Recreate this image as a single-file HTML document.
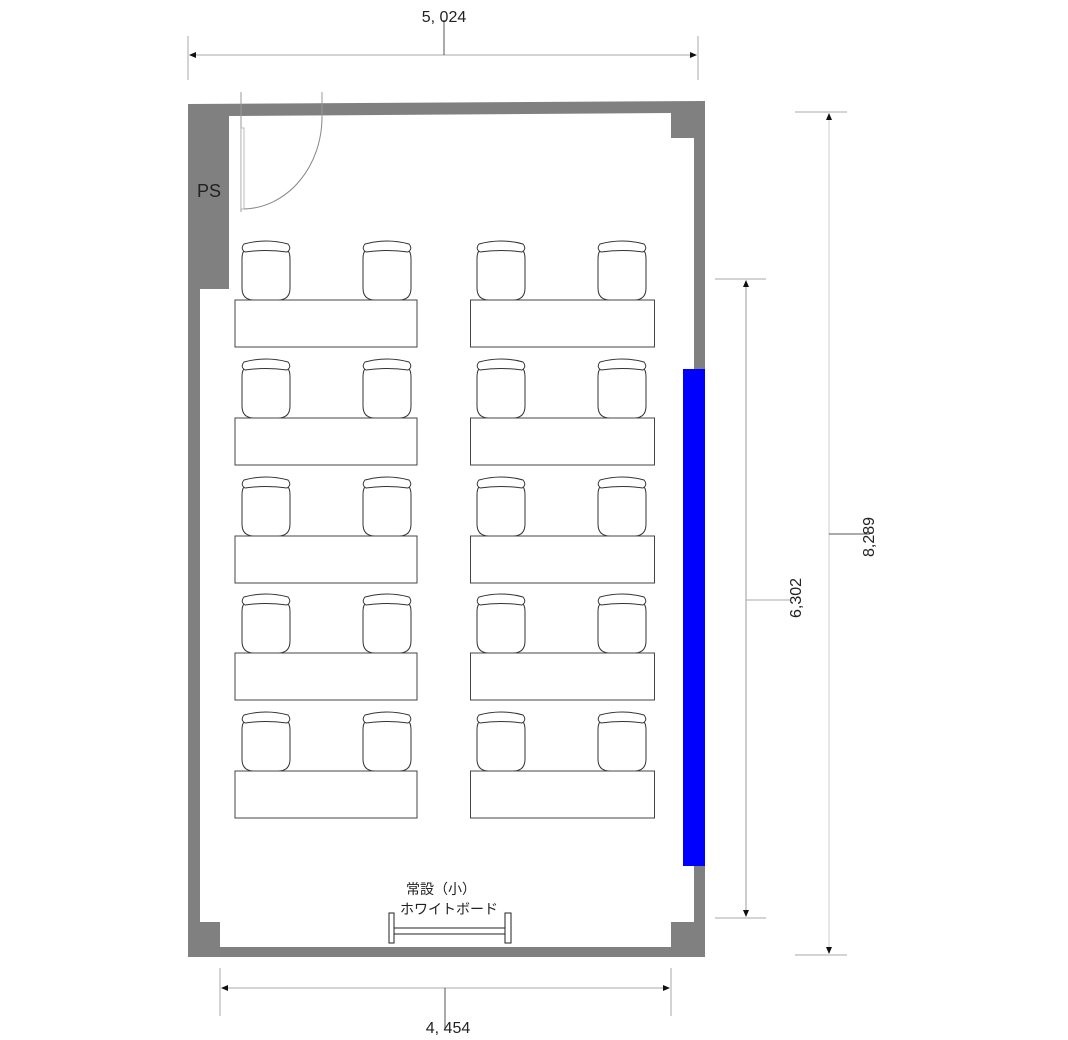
<!DOCTYPE html>
<html><head><meta charset="utf-8"><style>
html,body{margin:0;padding:0;background:#fff;width:1068px;height:1040px;overflow:hidden}
svg{display:block}
text{font-family:"Liberation Sans","Noto Sans CJK JP",sans-serif;fill:#222}
</style></head><body>
<svg width="1068" height="1040" viewBox="0 0 1068 1040" xmlns="http://www.w3.org/2000/svg">
<defs>
<g id="chair" fill="#fff" stroke="#333" stroke-width="1">
<path d="M3,10 Q1,12 1,18 L1,47 Q1,59 13,59 L37,59 Q49,59 49,47 L49,18 Q49,12 47,10 Q25,8 3,10 Z"/>
<path d="M3,3 Q25,-3 47,3 Q51,8 46,11 Q25,8 4,11 Q-1,8 3,3 Z"/>
</g>
<g id="row">
<use href="#chair" x="241" y="241"/>
<use href="#chair" x="362" y="241"/>
<use href="#chair" x="476" y="241"/>
<use href="#chair" x="597" y="241"/>
<rect x="235" y="300" width="182" height="47" fill="#fff" stroke="#444" stroke-width="1"/>
<rect x="470.5" y="300" width="184" height="47" fill="#fff" stroke="#444" stroke-width="1"/>
</g>
</defs>
<path fill="#808080" fill-rule="evenodd" d="M188,104 L705,101 L705,957 L188,957 Z M229,116 L671,113 L671,138 L694,138 L694,922 L671,922 L671,947 L220,947 L220,922 L200,922 L200,289 L229,289 Z"/>
<line x1="241" y1="92" x2="241" y2="212" stroke="#999" stroke-width="1"/>
<line x1="322" y1="92" x2="322" y2="117" stroke="#999" stroke-width="1"/>
<rect x="241" y="128" width="3" height="81" fill="#fff" stroke="#aaa" stroke-width="0.8"/>
<path d="M244,209 A80,92 0 0 0 322,117" fill="none" stroke="#888" stroke-width="1"/>
<text x="209" y="197" font-size="18" text-anchor="middle" fill="#111">PS</text>
<use href="#row" y="0"/>
<use href="#row" y="118"/>
<use href="#row" y="236"/>
<use href="#row" y="353"/>
<use href="#row" y="471"/>
<rect x="683" y="369" width="22" height="497" fill="#0000ff"/>
<rect x="389" y="913" width="5" height="30" fill="#fff" stroke="#222" stroke-width="1"/>
<rect x="505" y="913" width="6" height="30" fill="#fff" stroke="#222" stroke-width="1"/>
<line x1="394" y1="928" x2="505" y2="928" stroke="#222"/>
<line x1="394" y1="934" x2="505" y2="934" stroke="#222"/>
<text x="441" y="894" font-size="14" text-anchor="middle">常設（小）</text>
<text x="449" y="914" font-size="14" text-anchor="middle">ホワイトボード</text>
<g stroke="#aaa" stroke-width="1">
<line x1="188" y1="36" x2="188" y2="80"/><line x1="698" y1="36" x2="698" y2="80"/>
<line x1="190" y1="55" x2="696" y2="55"/>
<line x1="220" y1="968" x2="220" y2="1016"/><line x1="671" y1="968" x2="671" y2="1016"/>
<line x1="222" y1="988" x2="669" y2="988"/>
<line x1="715" y1="279" x2="766" y2="279"/><line x1="715" y1="918" x2="766" y2="918"/>
<line x1="746" y1="281" x2="746" y2="916" stroke="#999"/>
<line x1="795" y1="112" x2="847" y2="112"/><line x1="795" y1="955" x2="847" y2="955"/>
<line x1="829" y1="114" x2="829" y2="953" stroke="#ccc"/>
<line x1="746" y1="600" x2="790" y2="600"/>
</g>
<g stroke="#555" stroke-width="1">
<line x1="444" y1="20" x2="444" y2="55"/>
<line x1="445" y1="988" x2="445" y2="1030"/>
<line x1="829" y1="534" x2="870" y2="534"/>
</g>
<g fill="#111">
<path d="M189,55 l7,-3 v6 z"/><path d="M697,55 l-7,-3 v6 z"/>
<path d="M221,988 l7,-3 v6 z"/><path d="M670,988 l-7,-3 v6 z"/>
<path d="M746,280 l-3,7 h6 z"/><path d="M746,917 l-3,-7 h6 z"/>
<path d="M829,113 l-3,7 h6 z"/><path d="M829,954 l-3,-7 h6 z"/>
</g>
<text x="444" y="22" font-size="16" text-anchor="middle">5, 024</text>
<text x="448" y="1033" font-size="16" text-anchor="middle">4, 454</text>
<text transform="translate(801,598) rotate(-90)" font-size="16" text-anchor="middle">6,302</text>
<text transform="translate(874,537) rotate(-90)" font-size="16" text-anchor="middle">8,289</text>
</svg>
</body></html>
